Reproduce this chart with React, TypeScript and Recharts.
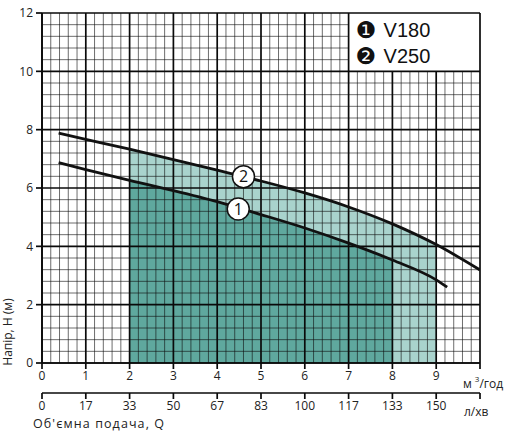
import React from 'react';
import {
  ComposedChart,
  Line,
  Area,
  XAxis,
  YAxis,
  ReferenceLine,
  ReferenceDot,
  ReferenceArea,
} from 'recharts';

// Flow (m³/h) and head (m)
const flowM3 = [0.38, 1, 2, 3, 4, 5, 6, 7, 8, 9, 9.25, 10];
const headV180 = [6.87, 6.63, 6.26, 5.91, 5.53, 5.09, 4.63, 4.11, 3.53, 2.85, 2.6, null];
const headV250 = [7.88, 7.67, 7.33, 6.97, 6.61, 6.24, 5.83, 5.35, 4.77, 4.06, null, 3.19];

// Working ranges shaded under each curve
const workRangeV180 = [2, 8];
const workRangeV250 = [2, 9];

// Axis ticks
const flowTicks = [0, 1, 2, 3, 4, 5, 6, 7, 8, 9, 10];
const flowTickLabels = ['0', '1', '2', '3', '4', '5', '6', '7', '8', '9', ''];
const litresTickLabels = ['0', '17', '33', '50', '67', '83', '100', '117', '133', '150', ''];
const headTicks = [0, 2, 4, 6, 8, 10, 12];
const flowMinorPerMajor = 5;
const headMinorPerMajor = 5;

// Curve markers and legend
const curveMarks = [
  { name: '1', q: 4.48, h: 5.28 },
  { name: '2', q: 4.6, h: 6.39 },
];
const legendMarks = ['❶', '❷'];
const legendNames = ['V180', 'V250'];
const legendBox = { q1: 7, q2: 10, h1: 10, h2: 12 };

const FLOW_AXIS = 'a_flow';
const LITRES_AXIS = 'b_litres';

const inRange = (q: number, r: number[]) => q >= r[0] && q <= r[1];

const rows = flowM3.map((q, i) => ({
  q,
  v180: headV180[i],
  v250: headV250[i],
  fill180: headV180[i] != null && inRange(q, workRangeV180) ? headV180[i] : null,
  fill250: headV250[i] != null && inRange(q, workRangeV250) ? headV250[i] : null,
}));

const subdivide = (ticks: number[], n: number) => {
  const out: number[] = [];
  for (let i = 0; i < ticks.length - 1; i++) {
    const a = ticks[i];
    const b = ticks[i + 1];
    for (let k = 1; k < n; k++) out.push(+(a + ((b - a) * k) / n).toFixed(4));
  }
  return out;
};

const flowMinor = subdivide(flowTicks, flowMinorPerMajor);
const headMinor = subdivide(headTicks, headMinorPerMajor);

const FONT = "'Open Sans', 'DejaVu Sans', sans-serif";

const gridLines = () => {
  const els: React.ReactNode[] = [];
  const qMax = flowTicks[flowTicks.length - 1];
  const hMax = headTicks[headTicks.length - 1];
  const vLine = (q: number, major: boolean) => {
    const top = q > legendBox.q1 && q < legendBox.q2 ? legendBox.h1 : hMax;
    els.push(
      <ReferenceLine
        key={`v${major ? 'M' : 'm'}${q}`}
        xAxisId={FLOW_AXIS}
        segment={[
          { x: q, y: 0 },
          { x: q, y: top },
        ]}
        stroke={major ? '#0a0a0a' : 'rgba(15,15,15,0.68)'}
        strokeWidth={major ? 1.7 : 0.9}
        ifOverflow="visible"
      />
    );
  };
  const hLine = (h: number, major: boolean) => {
    const right = h > legendBox.h1 && h < legendBox.h2 ? legendBox.q1 : qMax;
    els.push(
      <ReferenceLine
        key={`h${major ? 'M' : 'm'}${h}`}
        xAxisId={FLOW_AXIS}
        segment={[
          { x: 0, y: h },
          { x: right, y: h },
        ]}
        stroke={major ? '#0a0a0a' : 'rgba(15,15,15,0.68)'}
        strokeWidth={major ? 1.7 : 0.9}
        ifOverflow="visible"
      />
    );
  };
  flowMinor.forEach((q) => vLine(q, false));
  headMinor.forEach((h) => hLine(h, false));
  flowTicks.forEach((q) => vLine(q, true));
  headTicks.forEach((h) => hLine(h, true));
  return els;
};

const LegendContent = (props: any) => {
  const vb = props.viewBox || {};
  const x = vb.x ?? 0;
  const y = vb.y ?? 0;
  return (
    <g>
      {legendNames.map((name, i) => (
        <g key={name}>
          <text
            x={x + 7}
            y={y + 25 + i * 26}
            fontSize={23}
            fontFamily="'DejaVu Sans', sans-serif"
            fill="#111"
          >
            {legendMarks[i]}
          </text>
          <text
            x={x + 35}
            y={y + 24 + i * 26}
            fontSize={20}
            fontFamily="'Liberation Sans', Arial, sans-serif"
            fill="#111"
          >
            {name}
          </text>
        </g>
      ))}
    </g>
  );
};

const M3Unit = (props: any) => {
  const vb = props.viewBox || {};
  const x = (vb.x ?? 0) + (vb.width ?? 0) - 17;
  const y = (vb.y ?? 0) + 25;
  return (
    <text x={x} y={y} fontSize={12} fontFamily={FONT} fill="#222">
      м
      <tspan dx={3} dy={-6} fontSize={8}>
        3
      </tspan>
      <tspan dy={6}>/год</tspan>
    </text>
  );
};

const LitresUnit = (props: any) => {
  const vb = props.viewBox || {};
  const x0 = vb.x ?? 0;
  const y0 = vb.y ?? 0;
  const w = vb.width ?? 0;
  return (
    <g>
      <text x={x0 + w - 16} y={y0 + 23} fontSize={12} fontFamily={FONT} fill="#222">
        л/хв
      </text>
      <text x={x0 - 9} y={y0 + 35} fontSize={12.5} fontFamily={FONT} fill="#222" letterSpacing={1.1}>
        Об'ємна подача, Q
      </text>
    </g>
  );
};

const HeadLabel = (props: any) => {
  const vb = props.viewBox || {};
  const x = 12;
  const y = (vb.y ?? 0) + (vb.height ?? 0) - 31;
  return (
    <text
      x={x}
      y={y}
      transform={`rotate(-90, ${x}, ${y})`}
      textAnchor="middle"
      fontSize={12}
      fontFamily={FONT}
      fill="#222"
    >
      Напір, H (м)
    </text>
  );
};

export default function App() {
  return (
    <div style={{ position: 'absolute', left: 0, top: 0, width: 512, height: 435, background: '#fff' }}>
      <ComposedChart
        width={512}
        height={435}
        data={rows}
        margin={{ top: 13, right: 32, bottom: 20, left: 0 }}
      >
        <XAxis
          xAxisId={FLOW_AXIS}
          dataKey="q"
          type="number"
          domain={[0, 10]}
          ticks={flowTicks}
          tickFormatter={(v: number) => flowTickLabels[flowTicks.indexOf(v)] ?? ''}
          height={30}
          tickSize={6}
          tickMargin={2}
          interval={0}
          axisLine={{ stroke: '#0a0a0a', strokeWidth: 1.7 }}
          tickLine={{ stroke: '#0a0a0a', strokeWidth: 1.7 }}
          tick={{ fontSize: 12, fill: '#222', fontFamily: FONT }}
          allowDataOverflow
          label={<M3Unit />}
        />
        <XAxis
          xAxisId={LITRES_AXIS}
          dataKey="q"
          type="number"
          domain={[0, 10]}
          ticks={flowTicks}
          tickFormatter={(v: number) => litresTickLabels[flowTicks.indexOf(v)] ?? ''}
          height={22}
          tickSize={6}
          tickMargin={2}
          interval={0}
          axisLine={{ stroke: '#0a0a0a', strokeWidth: 1.7 }}
          tickLine={{ stroke: '#0a0a0a', strokeWidth: 1.7 }}
          tick={{ fontSize: 12, fill: '#222', fontFamily: FONT }}
          allowDataOverflow
          label={<LitresUnit />}
        />
        <YAxis
          type="number"
          domain={[0, 12]}
          ticks={headTicks}
          width={42}
          tickSize={6}
          tickMargin={3}
          interval={0}
          axisLine={{ stroke: '#0a0a0a', strokeWidth: 1.7 }}
          tickLine={{ stroke: '#0a0a0a', strokeWidth: 1.7 }}
          tick={{ fontSize: 12, fill: '#222', fontFamily: FONT }}
          allowDataOverflow
          label={<HeadLabel />}
        />
        <Area
          xAxisId={FLOW_AXIS}
          dataKey="fill250"
          type="monotone"
          stroke="none"
          fill="#a9d3cd"
          fillOpacity={1}
          baseValue={0}
          isAnimationActive={false}
        />
        <Area
          xAxisId={FLOW_AXIS}
          dataKey="fill180"
          type="monotone"
          stroke="none"
          fill="#5fa89e"
          fillOpacity={1}
          baseValue={0}
          isAnimationActive={false}
        />
        {gridLines()}
        <ReferenceArea
          xAxisId={FLOW_AXIS}
          x1={legendBox.q1}
          x2={legendBox.q2}
          y1={legendBox.h1}
          y2={legendBox.h2}
          fill="#fff"
          fillOpacity={1}
          stroke="none"
          ifOverflow="visible"
          label={<LegendContent />}
        />
        <Line
          xAxisId={FLOW_AXIS}
          dataKey="v180"
          type="monotone"
          stroke="#111"
          strokeWidth={2.8}
          dot={false}
          activeDot={false}
          connectNulls
          isAnimationActive={false}
        />
        <Line
          xAxisId={FLOW_AXIS}
          dataKey="v250"
          type="monotone"
          stroke="#111"
          strokeWidth={2.8}
          dot={false}
          activeDot={false}
          connectNulls
          isAnimationActive={false}
        />
        {curveMarks.map((m) => (
          <ReferenceDot
            key={m.name}
            xAxisId={FLOW_AXIS}
            x={m.q}
            y={m.h}
            r={11}
            fill="#fff"
            stroke="#111"
            strokeWidth={1.5}
            ifOverflow="visible"
            label={{ value: m.name, position: 'center', fontSize: 16, fill: '#111', fontFamily: FONT }}
          />
        ))}
      </ComposedChart>
    </div>
  );
}
